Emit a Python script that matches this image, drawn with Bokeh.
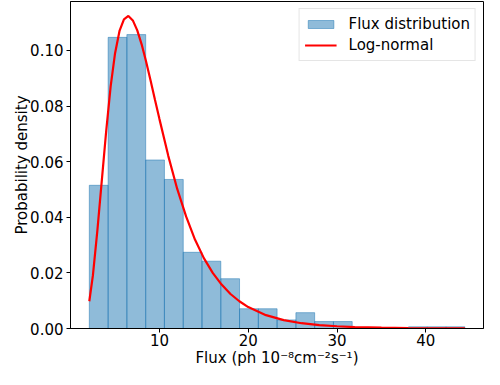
from bokeh.plotting import figure
from bokeh.models import Range1d, FixedTicker, Legend, LegendItem, PrintfTickFormatter
from bokeh.embed import file_html
from bokeh.resources import INLINE

# Histogram (density) of flux values
bin_edges = [2.10, 4.22, 6.33, 8.45, 10.56, 12.68, 14.79, 16.91, 19.02, 21.14,
             23.25, 25.37, 27.48, 29.60, 31.71, 33.83, 35.94, 38.06, 40.17, 42.29, 44.40]
density = [0.0515, 0.1047, 0.1057, 0.0606, 0.0536, 0.0274, 0.0242, 0.0179, 0.0071, 0.0071,
           0.0031, 0.0057, 0.0025, 0.0025, 0.0, 0.0, 0.0003, 0.0006, 0.0006, 0.0006]

# Fitted log-normal curve
curve_x = [2.1, 2.5, 3.0, 3.5, 4.0, 4.5, 5.0, 5.5, 6.0, 6.5, 7.0, 7.5, 8.0, 8.5, 9.0, 9.5,
           10.0, 11.0, 12.0, 13.0, 14.0, 15.0, 16.0, 17.0, 18.0, 19.0, 20.0, 22.0, 24.0,
           26.0, 28.0, 30.0, 32.0, 35.0, 38.0, 41.0, 44.4]
curve_y = [0.0098, 0.0190, 0.0350, 0.0530, 0.0710, 0.0870, 0.0990, 0.1070, 0.1112, 0.1124,
           0.1108, 0.1072, 0.1021, 0.0959, 0.0892, 0.0822, 0.0753, 0.0620, 0.0502, 0.0403,
           0.0320, 0.0253, 0.0200, 0.0158, 0.0124, 0.0098, 0.0077, 0.0048, 0.0030, 0.0019,
           0.0012, 0.0008, 0.0005, 0.0003, 0.00015, 0.00009, 0.00005]

x_ticks = [10, 20, 30, 40]
y_ticks = [0.0, 0.02, 0.04, 0.06, 0.08, 0.10]
x_title = "Flux (ph 10\u207b\u2078cm\u207b\u00b2s\u207b\u00b9)"
y_title = "Probability density"

p = figure(width=484, height=369, output_backend="svg", toolbar_location=None,
           x_range=Range1d(-0.02, 46.5), y_range=Range1d(0, 0.1176),
           min_border_left=70, min_border_right=1, min_border_top=1, min_border_bottom=0)

p.xgrid.visible = False
p.ygrid.visible = False
p.outline_line_color = "black"
p.outline_line_width = 1
p.background_fill_color = "white"
p.border_fill_color = "white"

bars = p.quad(left=bin_edges[:-1], right=bin_edges[1:], bottom=0, top=density,
              fill_color="#1f77b4", fill_alpha=0.5, line_color="#1f77b4", line_alpha=0.5,
              line_width=1)
ln = p.line(curve_x, curve_y, line_color="red", line_width=2.2)

for ax in (p.xaxis[0], p.yaxis[0]):
    ax.major_label_text_font = "DejaVu Sans"
    ax.major_label_text_font_size = "15px"
    ax.major_label_text_color = "black"
    ax.axis_label_text_font = "DejaVu Sans"
    ax.axis_label_text_font_size = "15px"
    ax.axis_label_text_font_style = "normal"
    ax.axis_label_text_color = "black"
    ax.axis_line_color = "black"
    ax.major_tick_in = 0
    ax.major_tick_out = 4
    ax.major_tick_line_color = "black"
    ax.minor_tick_line_color = None

p.xaxis.ticker = FixedTicker(ticks=x_ticks)
p.yaxis.ticker = FixedTicker(ticks=y_ticks)
p.yaxis.formatter = PrintfTickFormatter(format="%.2f")
p.xaxis.axis_label = x_title
p.yaxis.axis_label = y_title
p.xaxis.major_label_standoff = 1
p.xaxis.axis_label_standoff = 0
p.yaxis.major_label_standoff = 3
p.yaxis.axis_label_standoff = -4

legend = Legend(items=[LegendItem(label="Flux distribution", renderers=[bars]),
                       LegendItem(label="Log-normal", renderers=[ln])],
                location="top_right")
legend.margin = 7
legend.padding = 5
legend.spacing = 1
legend.label_text_font = "DejaVu Sans"
legend.label_text_font_size = "15px"
legend.label_text_color = "black"
legend.glyph_width = 32
legend.glyph_height = 10
legend.label_height = 20
legend.label_standoff = 12
legend.border_line_color = "#cccccc"
legend.border_line_width = 1
legend.background_fill_alpha = 0.8
p.add_layout(legend)

open("out.html", "w").write(file_html(p, INLINE))
